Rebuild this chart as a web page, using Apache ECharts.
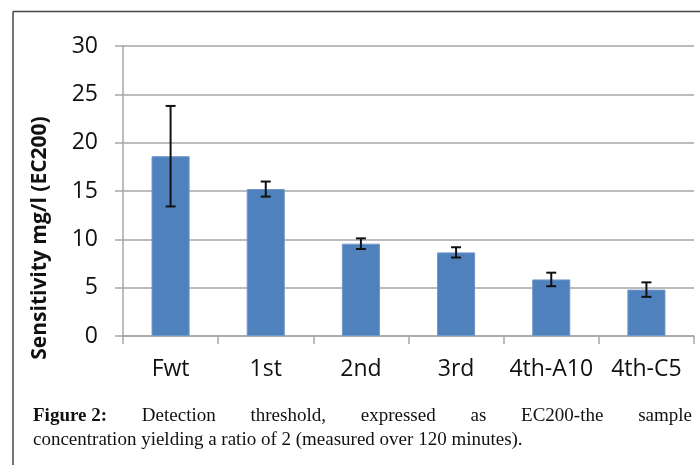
<!DOCTYPE html>
<html>
<head>
<meta charset="utf-8">
<script src="https://cdn.jsdelivr.net/npm/echarts@6/dist/echarts.min.js"></script>
<style>
  html, body { margin: 0; padding: 0; background: #fff; }
  #chart { width: 700px; height: 465px; }
</style>
</head>
<body>
<div id="chart"></div>
<script>
// Detection threshold (EC200) per strain, mean and error margin
const categories = ['Fwt', '1st', '2nd', '3rd', '4th-A10', '4th-C5'];
const sensitivity = [18.6, 15.2, 9.55, 8.65, 5.85, 4.8];
const errorMargin = [5.2, 0.78, 0.55, 0.53, 0.7, 0.75];
const yMin = 0, yMax = 30, yStep = 5;

const yAxisTitle = 'Sensitivity mg/l (EC200)';
const captionLead = 'Figure 2:';
const captionLine1 = ['Detection', 'threshold,', 'expressed', 'as', 'EC200-the', 'sample'];
const captionLine2 = 'concentration yielding a ratio of 2 (measured over 120 minutes).';

const chart = echarts.init(document.getElementById('chart'), null, { renderer: 'canvas' });

const sansFont = '"Open Sans", "Noto Sans", sans-serif';
const serifFont = '"Liberation Serif", "DejaVu Serif", serif';
const capSize = 19;
const capFont = capSize + 'px ' + serifFont;
const capBold = 'bold ' + capSize + 'px ' + serifFont;

// measure text to justify the first caption line
const mctx = document.createElement('canvas').getContext('2d');
function textWidth(t, font) { mctx.font = font; return mctx.measureText(t).width; }

const capLeft = 33, capRight = 692;
const captionEls = [];
(function () {
  const leadW = textWidth(captionLead, capBold);
  const ws = captionLine1.map(w => textWidth(w, capFont));
  const total = leadW + ws.reduce((a, b) => a + b, 0);
  const gap = (capRight - capLeft - total) / captionLine1.length;
  captionEls.push({ type: 'text', style: { text: captionLead, x: capLeft, y: 416, font: capBold, fill: '#111', verticalAlign: 'middle' } });
  let x = capLeft + leadW + gap;
  captionLine1.forEach((w, i) => {
    captionEls.push({ type: 'text', style: { text: w, x: x, y: 416, font: capFont, fill: '#111', verticalAlign: 'middle' } });
    x += ws[i] + gap;
  });
  captionEls.push({ type: 'text', style: { text: captionLine2, x: capLeft, y: 440, font: capFont, fill: '#111', verticalAlign: 'middle' } });
})();

const errorData = categories.map((c, i) => [i, sensitivity[i] - errorMargin[i], sensitivity[i] + errorMargin[i]]);

const option = {
  animation: false,
  backgroundColor: '#fff',
  grid: { left: 123, right: 6, top: 46, bottom: 129, containLabel: false },
  xAxis: {
    type: 'category',
    data: categories,
    axisLine: { lineStyle: { color: '#a6a6a6', width: 1.5 } },
    axisTick: { show: true, length: 8, lineStyle: { color: '#a6a6a6', width: 1.5 } },
    axisLabel: { interval: 0, color: '#111', fontSize: 23, fontFamily: sansFont, margin: 22 }
  },
  yAxis: {
    type: 'value',
    min: yMin, max: yMax, interval: yStep,
    axisLine: { show: true, lineStyle: { color: '#a6a6a6', width: 1.5 } },
    axisTick: { show: true, length: 8, lineStyle: { color: '#a6a6a6', width: 1.5 } },
    splitLine: { lineStyle: { color: '#a6a6a6', width: 1.5 } },
    axisLabel: { color: '#111', fontSize: 23, fontFamily: sansFont, margin: 25 }
  },
  series: [
    {
      type: 'bar',
      data: sensitivity,
      barWidth: '40%',
      itemStyle: { color: '#4f81bd', borderColor: '#6f97c8', borderWidth: 1 }
    },
    {
      type: 'custom',
      data: errorData,
      z: 10,
      renderItem: function (params, api) {
        const lo = api.coord([api.value(0), api.value(1)]);
        const hi = api.coord([api.value(0), api.value(2)]);
        const hw = 5;
        const st = { stroke: '#111', lineWidth: 2 };
        return {
          type: 'group',
          children: [
            { type: 'line', shape: { x1: hi[0], y1: hi[1], x2: lo[0], y2: lo[1] }, style: st },
            { type: 'line', shape: { x1: hi[0] - hw, y1: hi[1], x2: hi[0] + hw, y2: hi[1] }, style: st },
            { type: 'line', shape: { x1: lo[0] - hw, y1: lo[1], x2: lo[0] + hw, y2: lo[1] }, style: st }
          ]
        };
      }
    }
  ],
  graphic: [
    { type: 'line', shape: { x1: 13, y1: 11.5, x2: 700, y2: 11.5 }, style: { stroke: '#444', lineWidth: 1.5 } },
    { type: 'line', shape: { x1: 13, y1: 11.5, x2: 13, y2: 465 }, style: { stroke: '#444', lineWidth: 1.5 } },
    {
      type: 'text',
      x: 40, y: 238,
      rotation: Math.PI / 2,
      style: { text: yAxisTitle, font: 'bold 21px ' + sansFont, fill: '#111', align: 'center', verticalAlign: 'middle' }
    }
  ].concat(captionEls)
};

chart.setOption(option);
</script>
</body>
</html>
